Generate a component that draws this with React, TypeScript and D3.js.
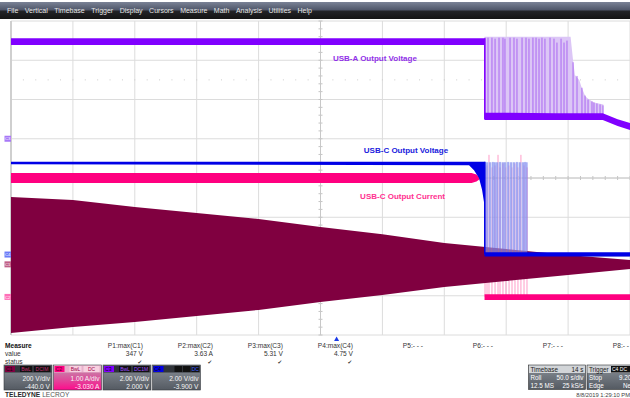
import React from "react";
import * as d3 from "d3";

const FONT = "'Liberation Sans', Arial, sans-serif";

const menuItems = ["File", "Vertical", "Timebase", "Trigger", "Display", "Cursors", "Measure", "Math", "Analysis", "Utilities", "Help"];

// channel settings (value = div*scale - offset)
const chanNames = ["C1", "C2", "C3", "C4"];
const chanScale = [200, 1, 2, 2];
const chanOffset = [-440, -3.03, 2, -3.9];
const chanColor = ["#800040", "#ff0080", "#8000ff", "#0000e6"];
const chanScaleText = ["200 V/div", "1.00 A/div", "2.00 V/div", "2.00 V/div"];
const chanOffsetText = ["-440.0 V", "-3.030 A", "2.000 V", "-3.900 V"];
const chanTiles = [["BwL", "DCIM"], ["BwL", "DC"], ["BwL", "DC1M"], ["", "", "DC"]];

// C1 : AC input envelope (V)
const c1Time = [0, 50, 100, 150, 200, 250, 300, 350, 400, 450, 500];
const c1Max = [343, 328, 292, 262, 231, 190, 154, 109, 78, 48, 22];
const c1Min = [-350, -319, -294, -263, -232, -192, -156, -115, -85, -54, -24];

// C2 : USB-C output current (A)
const c2HighTime = [0, 372, 376, 378.5];
const c2HighMax = [3.16, 3.16, 3.12, 3.03];
const c2HighMin = [2.9, 2.9, 2.94, 3.0];
const c2LowTime = [382.5, 500];
const c2LowMax = [0.07, 0.07];
const c2LowMin = [-0.08, -0.08];
const c2SpikeTime = [382.9, 384.5, 386.1, 388.5, 391.0, 393.4, 395.0, 397.4, 399.8, 402.3, 404.7, 407.1, 409.5, 411.9, 414.4, 416.8];
const c2SpikePeak = [3.3, 3.35, 3.62, 3.3, 3.35, 3.62, 3.3, 3.4, 3.3, 3.35, 3.3, 3.4, 3.3, 3.62, 3.35, 3.3];

// C3 : USB-A output voltage (V)
const c3HighTime = [0, 382.5];
const c3HighMax = [5.12, 5.12];
const c3HighMin = [4.78, 4.78];
const c3LowTime = [382.5, 440, 478, 490, 500];
const c3LowMax = [1.33, 1.3, 1.3, 1.0, 0.8];
const c3LowMin = [0.96, 0.95, 0.95, 0.65, 0.45];
const c3EnvTime = [382.5, 452, 454, 455.5, 459, 461, 464, 467, 471, 478.5];
const c3EnvMax = [5.2, 5.2, 4.0, 3.25, 3.0, 2.6, 2.15, 2.0, 1.85, 1.75];
const c3EnvBase = 1.1;
const c3SpikeTime = [382.9, 385.3, 388.5, 391.0, 394.2, 397.4, 399.0, 403.1, 406.3, 408.7, 412.8, 416.0, 418.4, 421.6, 424.1, 426.5, 428.9, 431.3, 435.4, 438.6, 441.0, 444.3, 446.7, 449.1, 454.0, 457.2, 461.2, 463.7, 466.1, 469.3, 470.9, 473.3, 475.8, 478.2];
const c3SpikePeak = [5.15, 5.15, 5.15, 5.1, 5.15, 5.15, 5.1, 5.15, 5.15, 5.1, 5.15, 5.15, 5.1, 5.15, 5.15, 5.1, 5.15, 5.1, 5.15, 5.1, 4.9, 5.1, 4.9, 5.0, 3.9, 3.2, 2.6, 2.2, 2.0, 1.9, 1.85, 1.8, 1.75, 1.7];

// C4 : USB-C output voltage (V)
const c4HighTime = [0, 370, 374, 378, 380.5, 382.5];
const c4HighMax = [4.73, 4.73, 4.73, 4.73, 4.73, 4.73];
const c4HighMin = [4.6, 4.55, 4.3, 3.9, 3.3, 2.5];
const c4LowTime = [382.5, 500];
const c4LowMax = [0.12, 0.12];
const c4LowMin = [-0.1, -0.1];
const c4BurstTime = [382.9, 416.8];
const c4BurstMax = [4.7, 4.7];
const c4BurstMin = [0, 0];
const c4SpikeTime = [382.9, 384.5, 386.9, 389.3, 390.9, 392.6, 395.0, 397.4, 399.0, 401.5, 403.9, 406.3, 408.7, 411.1, 413.6, 415.2, 416.8];
const c4SpikePeak = [4.72, 4.7, 4.7, 4.72, 4.7, 4.7, 4.72, 4.7, 4.7, 4.72, 4.7, 4.7, 4.72, 4.7, 4.7, 4.72, 4.7];

// trace labels
const traceLabels = ["USB-A Output Voltage", "USB-C Output Voltage", "USB-C Output Current"];
const traceLabelChan = [2, 3, 1];
const traceLabelTime = [260, 285, 282];
const traceLabelValue = [3.96, 5.17, 2.5];
const traceLabelColor = ["#9030e8", "#2020dd", "#ff3090"];

// measurements
const measureParams = ["P1:max(C1)", "P2:max(C2)", "P3:max(C3)", "P4:max(C4)", "P5:- - -", "P6:- - -", "P7:- - -", "P8:- - -"];
const measureValues = ["347 V", "3.63 A", "5.31 V", "4.75 V", "", "", "", ""];
const measureStatus = [true, true, true, true, false, false, false, false];

const triggerTime = 263;
const dateText = "8/8/2019 1:29:10 PM";

export default function App() {
  const x = d3.scaleLinear().domain([0, 500]).range([11, 630]);
  const yDiv = d3.scaleLinear().domain([-4, 4]).range([335, 21]);
  const yCh = chanScale.map((s, i) =>
    d3.scaleLinear().domain([-4 * s - chanOffset[i], 4 * s - chanOffset[i]]).range([335, 21])
  );

  const band = (t: number[], lo: number[] | number, hi: number[], y: d3.ScaleLinear<number, number>) =>
    d3
      .area<number>()
      .x((i) => x(t[i]))
      .y0((i) => y(Array.isArray(lo) ? lo[i] : lo))
      .y1((i) => y(hi[i]))(d3.range(t.length)) || "";

  const spikes = (t: number[], peak: number[], base: number, y: d3.ScaleLinear<number, number>, color: string, w = 1, op = 1) =>
    t.map((tt, i) => (
      <line key={i} x1={x(tt)} x2={x(tt)} y1={y(base)} y2={y(peak[i])} stroke={color} strokeWidth={w} strokeOpacity={op} />
    ));

  const vLines = d3.range(0, 11).map((i) => x(i * 50));
  const hLines = d3.range(-4, 5).map((k) => yDiv(k));
  const xc = x(250);
  const yc = yDiv(0);

  const colRight = (i: number) => 143 + i * 70;

  return (
    <svg width={630} height={398} style={{ position: "fixed", left: 0, top: 0, background: "#fff" }} fontFamily={FONT}>
      <defs>
        <linearGradient id="menuG" x1="0" y1="0" x2="0" y2="1">
          <stop offset="0" stopColor="#7a8296" />
          <stop offset="0.48" stopColor="#4e5568" />
          <stop offset="0.52" stopColor="#232428" />
          <stop offset="1" stopColor="#141414" />
        </linearGradient>
        <linearGradient id="boxG" x1="0" y1="0" x2="0" y2="1">
          <stop offset="0" stopColor="#8a9098" />
          <stop offset="1" stopColor="#545a62" />
        </linearGradient>
        <linearGradient id="boxPink" x1="0" y1="0" x2="0" y2="1">
          <stop offset="0" stopColor="#b8a0ae" />
          <stop offset="0.6" stopColor="#e0489a" />
          <stop offset="1" stopColor="#ff0a8c" />
        </linearGradient>
      </defs>

      {/* menu bar */}
      <rect x={0} y={2} width={630} height={17} fill="url(#menuG)" />
      <text x={7} y={13} fontSize={7} fill="#e6e6e6">
        {menuItems.map((m, i) => (
          <tspan key={m} dx={i === 0 ? 0 : 6.5}>
            {m}
          </tspan>
        ))}
      </text>

      {/* grid */}
      <g stroke="#dcdcdc" strokeWidth={1}>
        {vLines.map((vx, i) => (
          <line key={"v" + i} x1={vx} x2={vx} y1={21} y2={335} />
        ))}
        {hLines.map((hy, i) => (
          <line key={"h" + i} x1={11} x2={630} y1={hy} y2={hy} />
        ))}
      </g>
      <line x1={11} x2={11} y1={21} y2={335} stroke="#cfcfcf" strokeWidth={2} />
      <g stroke="#c4c4c4" strokeWidth={1}>
        {d3.range(-20, 21).map((k) => (
          <line key={"tv" + k} x1={xc - 2} x2={xc + 2} y1={yDiv(k / 5)} y2={yDiv(k / 5)} />
        ))}
        {d3.range(0, 51).map((j) => (
          <line key={"th" + j} x1={x(j * 10)} x2={x(j * 10)} y1={yc - 2} y2={yc + 2} />
        ))}
      </g>
      <line x1={xc} x2={xc} y1={21} y2={335} stroke="#c8c8c8" />
      <line x1={11} x2={630} y1={yc} y2={yc} stroke="#c8c8c8" />
      <g fill="#cccccc">
        {d3.range(1, 50).map((j) => (
          <rect key={"d" + j} x={x(j * 10) - 0.5} y={yDiv(2.5) - 0.5} width={1} height={1} />
        ))}
      </g>

      {/* C2 pink (drawn first) */}
      {spikes(c2SpikeTime, c2SpikePeak, 0, yCh[1], "#ff9cc8", 1)}
      <path d={band(c2HighTime, c2HighMin, c2HighMax, yCh[1])} fill={chanColor[1]} />
      <path d={band(c2LowTime, c2LowMin, c2LowMax, yCh[1])} fill={chanColor[1]} />

      {/* C1 maroon */}
      <path d={band(c1Time, c1Min, c1Max, yCh[0])} fill={chanColor[0]} />

      {/* C3 purple */}
      <path d={band(c3EnvTime, c3EnvBase, c3EnvMax, yCh[2])} fill="#dcc6f6" />
      {spikes(c3SpikeTime, c3SpikePeak, c3EnvBase, yCh[2], "#9a48f0", 1, 0.75)}
      <path d={band(c3HighTime, c3HighMin, c3HighMax, yCh[2])} fill={chanColor[2]} />
      <path d={band(c3LowTime, c3LowMin, c3LowMax, yCh[2])} fill={chanColor[2]} />
      <line x1={x(382.7)} x2={x(382.7)} y1={yCh[2](5.12)} y2={yCh[2](1.0)} stroke={chanColor[2]} strokeWidth={1.5} />

      {/* C4 blue */}
      <path d={band(c4BurstTime, c4BurstMin, c4BurstMax, yCh[3])} fill="#b4bcf4" fillOpacity={0.55} />
      {spikes(c4SpikeTime, c4SpikePeak, 0, yCh[3], "#5868ec", 1, 0.75)}
      <path d={band(c4HighTime, c4HighMin, c4HighMax, yCh[3])} fill={chanColor[3]} />
      <line x1={x(382.7)} x2={x(382.7)} y1={yCh[3](4.73)} y2={yCh[3](0)} stroke={chanColor[3]} strokeWidth={1.5} />
      <path d={band(c4LowTime, c4LowMin, c4LowMax, yCh[3])} fill={chanColor[3]} />

      {/* trace labels */}
      {traceLabels.map((t, i) => (
        <text key={t} x={x(traceLabelTime[i])} y={yCh[traceLabelChan[i]](traceLabelValue[i])} fontSize={8} fontWeight="bold" fill={traceLabelColor[i]}>
          {t}
        </text>
      ))}

      {/* ground markers */}
      {[2, 3, 0, 1].map((ci) => {
        const yy = yCh[ci](0);
        const light = ["#c06088", "#ff70b8", "#a878f8", "#6c7cf8"][ci];
        return (
          <g key={"gm" + ci}>
            <rect x={4.5} y={yy - 3} width={6.5} height={6} fill={light} />
            <text x={7.75} y={yy + 1.6} fontSize={4.2} fill="#fff" textAnchor="middle">
              {chanNames[ci]}
            </text>
          </g>
        );
      })}

      {/* trigger marker */}
      <path d={`M${x(triggerTime) - 2.5},341 L${x(triggerTime) + 2.5},341 L${x(triggerTime)},336.5 Z`} fill="#1a3ae8" />

      {/* measure table */}
      <g fontSize={6.6} fill="#333">
        <text x={5} y={347.5} fontWeight="bold" fill="#111">Measure</text>
        <text x={5} y={355.5}>value</text>
        <text x={5} y={363.5}>status</text>
        {measureParams.map((p, i) => (
          <g key={p}>
            <text x={colRight(i)} y={347.5} textAnchor="end">{p}</text>
            <text x={colRight(i)} y={355.5} textAnchor="end">{measureValues[i]}</text>
            {measureStatus[i] && (
              <text x={colRight(i) - 1} y={363.5} textAnchor="end" fontFamily="'DejaVu Sans'" fontSize={5.5} fill="#444">
                ✔
              </text>
            )}
          </g>
        ))}
      </g>

      {/* channel boxes */}
      {chanNames.map((c, i) => {
        const x0 = 4 + i * 49.5;
        const w = 48;
        const pink = i === 1;
        return (
          <g key={"box" + c}>
            <rect x={x0} y={365} width={w} height={25} fill={pink ? "url(#boxPink)" : "url(#boxG)"} stroke="#3a3d42" strokeWidth={0.6} />
            <rect x={x0 + 0.5} y={365.5} width={w - 1} height={7} fill={pink ? "#e8b0cc" : "#30343a"} />
            <rect x={x0 + 1} y={366} width={10} height={6} fill={chanColor[i]} />
            <text x={x0 + 2} y={371} fontSize={5.2} fill={pink ? "#600030" : "#1a0010"}>{c}</text>
            {chanTiles[i].map((tt, k) => {
              const n = chanTiles[i].length;
              const tw = n === 2 ? (k === 0 ? 12 : 16) : 7.5;
              const tx = n === 2 ? (k === 0 ? x0 + 16 : x0 + 30) : x0 + 22 + k * 8.5;
              return (
                <g key={k}>
                  <rect x={tx} y={366} width={tw} height={6} fill={pink ? "#f8d0e0" : "#111"} />
                  <text x={tx + tw / 2} y={371} fontSize={5} textAnchor="middle" fill={pink ? "#a0004a" : chanColor[i] === "#0000e6" ? "#4060ff" : i === 2 ? "#a050ff" : "#c03070"}>
                    {tt}
                  </text>
                </g>
              );
            })}
            <text x={x0 + w - 2} y={381} fontSize={6.6} textAnchor="end" fill="#f4f4f4">{chanScaleText[i]}</text>
            <text x={x0 + w - 2} y={388.5} fontSize={6.6} textAnchor="end" fill="#f4f4f4">{chanOffsetText[i]}</text>
          </g>
        );
      })}

      {/* brand */}
      <text x={5} y={396.5} fontSize={6.6} fill="#2a2a2a">
        <tspan fontWeight="bold">TELEDYNE</tspan>
        <tspan dx={2} fill="#555">LECROY</tspan>
      </text>

      {/* timebase box */}
      <g fontSize={6.3}>
        <rect x={528.5} y={365} width={57} height={24.5} fill="url(#boxG)" stroke="#333" strokeWidth={0.6} />
        <rect x={529} y={365.5} width={56} height={7.5} fill="#d2d5d8" />
        <text x={530.5} y={371.5} fill="#222">Timebase</text>
        <text x={583.5} y={371.5} fill="#222" textAnchor="end">14 s</text>
        <text x={530.5} y={379.5} fill="#fff">Roll</text>
        <text x={583.5} y={379.5} fill="#fff" textAnchor="end">50.0 s/div</text>
        <text x={530.5} y={387.5} fill="#fff">12.5 MS</text>
        <text x={583.5} y={387.5} fill="#fff" textAnchor="end">25 kS/s</text>

        <rect x={587} y={365} width={60} height={24.5} fill="url(#boxG)" stroke="#333" strokeWidth={0.6} />
        <rect x={587.5} y={365.5} width={59} height={7.5} fill="#d2d5d8" />
        <text x={589} y={371.5} fill="#222">Trigger</text>
        <rect x={611} y={366} width={22} height={6.5} fill="#111" />
        <text x={612} y={371.3} fill="#fff" fontSize={5}>C4 DC</text>
        <text x={589} y={379.5} fill="#fff">Stop</text>
        <text x={619} y={379.5} fill="#fff">9.20 V</text>
        <text x={589} y={387.5} fill="#fff">Edge</text>
        <text x={623} y={387.5} fill="#fff">Neg</text>
      </g>
      <text x={630} y={397} fontSize={5.8} fill="#444" textAnchor="end">{dateText}</text>
    </svg>
  );
}
